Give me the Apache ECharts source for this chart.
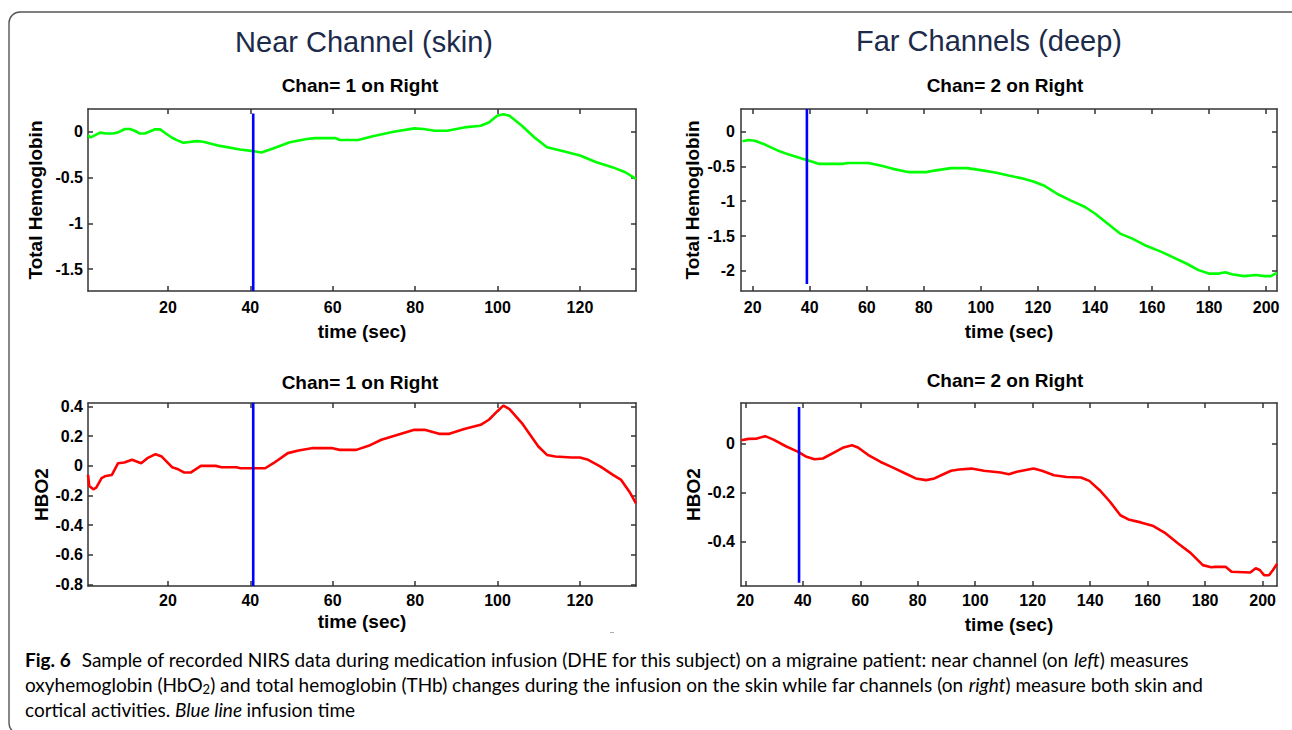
<!DOCTYPE html>
<html>
<head>
<meta charset="utf-8">
<script src="https://cdn.jsdelivr.net/npm/echarts@6/dist/echarts.min.js"></script>
<style>
html,body{margin:0;padding:0;background:#fff;}
#c{width:1292px;height:730px;}
</style>
</head>
<body>
<div id="c"></div>
<script>
// ---------- DATA ----------
const panelTitles = ["Near Channel (skin)", "Far Channels (deep)"];
const subTitles = ["Chan= 1 on Right", "Chan= 2 on Right", "Chan= 1 on Right", "Chan= 2 on Right"];
const yNames = ["Total Hemoglobin", "Total Hemoglobin", "HBO2", "HBO2"];
const xName = "time (sec)";

const nearXTicks = [20, 40, 60, 80, 100, 120];
const farXTicks = [20, 40, 60, 80, 100, 120, 140, 160, 180, 200];
const nearTHbYTicks = [0, -0.5, -1, -1.5];
const farTHbYTicks = [0, -0.5, -1, -1.5, -2];
const nearHbO2YTicks = [0.4, 0.2, 0, -0.2, -0.4, -0.6, -0.8];
const farHbO2YTicks = [0, -0.2, -0.4];

// near channel, total hemoglobin
const nearTHbTime = [0.6, 1.2, 2.0, 3.5, 5.0, 6.7, 8.0, 9.6, 10.8, 12.2, 13.2, 14.4, 16.9, 18.1, 19.5, 20.9, 22.3, 23.7, 27.0, 28.6, 32.6, 37.5, 40.7, 42.7, 45.5, 49.6, 53.7, 55.7, 60.7, 61.7, 66.2, 69.7, 74.8, 79.8, 82.0, 84.8, 87.8, 91.9, 95.9, 97.9, 99.9, 101.4, 102.9, 105.9, 108.9, 112.0, 116.0, 120.0, 124.0, 128.0, 131.0, 133.6];
const nearTHb = [-0.04, -0.062, -0.045, -0.01, -0.02, -0.02, -0.005, 0.03, 0.03, 0.005, -0.02, -0.02, 0.027, 0.025, -0.02, -0.063, -0.095, -0.12, -0.103, -0.11, -0.155, -0.194, -0.212, -0.227, -0.183, -0.116, -0.08, -0.07, -0.07, -0.09, -0.09, -0.05, 0.0, 0.036, 0.03, 0.01, 0.01, 0.047, 0.065, 0.1, 0.174, 0.19, 0.174, 0.065, -0.06, -0.17, -0.214, -0.26, -0.334, -0.39, -0.443, -0.516];

// far channels, total hemoglobin
const farTHbTime = [16.4, 18.6, 20.7, 24.3, 28.7, 33.0, 37.4, 39.5, 43.1, 47.5, 51.8, 53.3, 60.5, 64.8, 69.2, 73.5, 75.0, 80.8, 83.7, 89.5, 95.3, 101.0, 105.4, 109.7, 114.0, 118.4, 122.0, 127.0, 131.4, 136.5, 140.1, 143.7, 148.8, 153.1, 157.5, 163.3, 167.6, 172.0, 176.3, 179.9, 183.5, 185.7, 187.9, 192.2, 196.5, 199.4, 201.6, 203.8];
const farTHb = [-0.138, -0.12, -0.13, -0.186, -0.27, -0.334, -0.39, -0.415, -0.463, -0.463, -0.463, -0.45, -0.45, -0.487, -0.535, -0.573, -0.582, -0.582, -0.56, -0.525, -0.525, -0.56, -0.59, -0.63, -0.668, -0.716, -0.773, -0.9, -0.988, -1.083, -1.18, -1.3, -1.465, -1.537, -1.632, -1.728, -1.81, -1.895, -1.99, -2.04, -2.04, -2.02, -2.05, -2.076, -2.06, -2.076, -2.076, -2.03];

// near channel, HbO2
const nearHbO2Time = [0.6, 0.9, 1.9, 2.6, 3.9, 4.9, 6.4, 7.9, 9.4, 11.3, 13.5, 15.0, 17.0, 18.5, 21.0, 22.5, 24.0, 25.5, 28.0, 31.6, 33.0, 36.6, 37.6, 43.6, 45.6, 49.1, 51.7, 55.2, 59.7, 61.7, 65.7, 68.7, 71.8, 75.8, 79.8, 82.3, 85.8, 88.3, 91.9, 95.9, 97.9, 99.9, 101.4, 102.9, 105.9, 107.9, 109.9, 112.0, 114.0, 118.0, 120.0, 122.0, 125.0, 128.0, 130.0, 132.0, 133.6];
const nearHbO2 = [-0.06, -0.135, -0.158, -0.147, -0.083, -0.068, -0.061, 0.018, 0.023, 0.041, 0.018, 0.052, 0.079, 0.063, -0.009, -0.023, -0.045, -0.045, 0.0, 0.0, -0.009, -0.009, -0.016, -0.016, 0.018, 0.086, 0.104, 0.12, 0.12, 0.108, 0.108, 0.135, 0.176, 0.21, 0.243, 0.243, 0.216, 0.216, 0.248, 0.277, 0.311, 0.367, 0.406, 0.383, 0.289, 0.21, 0.131, 0.074, 0.063, 0.056, 0.056, 0.041, -0.005, -0.061, -0.095, -0.174, -0.253];

// far channels, HbO2
const farHbO2Time = [18.6, 21.1, 24.0, 26.9, 29.8, 34.1, 38.4, 41.3, 44.1, 47.0, 51.3, 54.2, 57.1, 59.2, 62.8, 67.1, 71.4, 75.7, 79.3, 82.9, 85.8, 88.7, 91.6, 94.4, 98.7, 103.0, 108.8, 111.7, 114.5, 120.3, 123.2, 127.4, 131.8, 136.8, 139.7, 143.3, 146.9, 150.5, 153.3, 157.6, 162.0, 166.3, 170.6, 174.9, 179.2, 182.1, 183.5, 187.1, 189.2, 195.7, 197.6, 199.0, 200.5, 202.2, 203.6, 205.0];
const farHbO2 = [0.0136, 0.019, 0.02, 0.03, 0.016, -0.011, -0.034, -0.054, -0.064, -0.061, -0.034, -0.016, -0.007, -0.016, -0.047, -0.075, -0.098, -0.122, -0.142, -0.149, -0.142, -0.126, -0.111, -0.106, -0.102, -0.111, -0.118, -0.125, -0.115, -0.102, -0.111, -0.129, -0.136, -0.138, -0.152, -0.19, -0.237, -0.292, -0.309, -0.321, -0.336, -0.366, -0.407, -0.445, -0.495, -0.504, -0.502, -0.502, -0.522, -0.525, -0.508, -0.515, -0.536, -0.536, -0.515, -0.49];

// infusion time (blue line) per panel and its vertical extent
const infusionTimes = [40.7, 39.0, 40.7, 38.7];
const infusionSpans = [[-1.74, 0.2], [-2.19, 0.325], [-0.81, 0.425], [-0.567, 0.149]];

const captionLines = [
  "{b|Fig. 6}{n|Sample of recorded NIRS data during medication infusion (DHE for this subject) on a migraine patient: near channel (on }{i|left}{n|) measures}",
  "{n|oxyhemoglobin (HbO}{s|2}{n|) and total hemoglobin (THb) changes during the infusion on the skin while far channels (on }{i|right}{n|) measure both skin and}",
  "{n|cortical activities. }{i|Blue line }{n|infusion time}"
];

// ---------- LAYOUT ----------
const grids = [
  {left: 88, top: 109, width: 548, height: 182},
  {left: 741, top: 109, width: 536, height: 182},
  {left: 88, top: 403, width: 548, height: 183},
  {left: 741, top: 403, width: 536, height: 183}
];
const xRanges = [[0.6, 133.6], [15.9, 203.8], [0.6, 133.6], [18.5, 205]];
const yRanges = [[-1.74, 0.248], [-2.29, 0.325], [-0.81, 0.424], [-0.58, 0.165]];
const xTickSets = [nearXTicks, farXTicks, nearXTicks, farXTicks];
const yTickSets = [nearTHbYTicks, farTHbYTicks, nearHbO2YTicks, farHbO2YTicks];
const yNameGaps = [43, 39, 37, 38];
const xNameGaps = [31, 31, 26, 29];
const xLabelMargins = [8, 8, 6, 6];
const yLabelMargins = [5, 6, 5, 6];

const SANS = '"Liberation Sans", Arial, sans-serif';
const axisColor = '#333';

function zip(a, b) { return a.map((v, i) => [v, b[i]]); }

const xAxes = [], yAxes = [], series = [];
grids.forEach((g, i) => {
  const common = {
    gridIndex: i, type: 'value',
    axisLine: {show: true, onZero: false, lineStyle: {color: axisColor, width: 1.5}},
    splitLine: {show: false}
  };
  xAxes.push(Object.assign({}, common, {
    position: 'bottom', min: xRanges[i][0], max: xRanges[i][1],
    axisTick: {show: true, inside: true, length: 5, customValues: xTickSets[i], lineStyle: {color: axisColor, width: 1.5}},
    axisLabel: {show: true, customValues: xTickSets[i], margin: xLabelMargins[i], color: '#000', fontFamily: SANS, fontWeight: 'bold', fontSize: 16},
    name: xName, nameLocation: 'middle', nameGap: xNameGaps[i],
    nameTextStyle: {color: '#000', fontFamily: SANS, fontWeight: 'bold', fontSize: 19}
  }));
  xAxes.push(Object.assign({}, common, {
    position: 'top', min: xRanges[i][0], max: xRanges[i][1],
    axisTick: {show: true, inside: true, length: 5, customValues: xTickSets[i], lineStyle: {color: axisColor, width: 1.5}},
    axisLabel: {show: false}
  }));
  yAxes.push(Object.assign({}, common, {
    position: 'left', min: yRanges[i][0], max: yRanges[i][1],
    axisTick: {show: true, inside: true, length: 5, customValues: yTickSets[i], lineStyle: {color: axisColor, width: 1.5}},
    axisLabel: {show: true, customValues: yTickSets[i], margin: yLabelMargins[i], color: '#000', fontFamily: SANS, fontWeight: 'bold', fontSize: 16},
    name: yNames[i], nameLocation: 'middle', nameGap: yNameGaps[i], nameRotate: 90,
    nameTextStyle: {color: '#000', fontFamily: SANS, fontWeight: 'bold', fontSize: 19}
  }));
  yAxes.push(Object.assign({}, common, {
    position: 'right', min: yRanges[i][0], max: yRanges[i][1],
    axisTick: {show: true, inside: true, length: 5, customValues: yTickSets[i], lineStyle: {color: axisColor, width: 1.5}},
    axisLabel: {show: false}
  }));
});

const dataSets = [
  {t: nearTHbTime, v: nearTHb, color: '#00ff00'},
  {t: farTHbTime, v: farTHb, color: '#00ff00'},
  {t: nearHbO2Time, v: nearHbO2, color: '#ff0000'},
  {t: farHbO2Time, v: farHbO2, color: '#ff0000'}
];
dataSets.forEach((d, i) => {
  series.push({
    type: 'line', xAxisIndex: i * 2, yAxisIndex: i * 2,
    data: zip(d.t, d.v), showSymbol: false, symbol: 'none',
    lineStyle: {color: d.color, width: 2.6}, silent: true
  });
  series.push({
    type: 'line', xAxisIndex: i * 2, yAxisIndex: i * 2,
    data: [[infusionTimes[i], infusionSpans[i][0]], [infusionTimes[i], infusionSpans[i][1]]],
    showSymbol: false, symbol: 'none',
    lineStyle: {color: '#0000ff', width: 2.6}, silent: true
  });
});

const subPos = [[360, 85], [1005, 85], [360, 382], [1005, 380]];
const graphics = [
  {type: 'rect', shape: {x: 9, y: 12, width: 1295, height: 722, r: 11},
   style: {fill: 'none', stroke: '#555', lineWidth: 1.4}, silent: true},
  {type: 'text', x: 364, y: 42, style: {text: panelTitles[0], fontFamily: SANS, fontSize: 29, fill: '#1c2b4a', align: 'center', verticalAlign: 'middle'}},
  {type: 'text', x: 989, y: 41, style: {text: panelTitles[1], fontFamily: SANS, fontSize: 29, fill: '#1c2b4a', align: 'center', verticalAlign: 'middle'}},
  {type: 'rect', shape: {x: 610, y: 632, width: 4, height: 1}, style: {fill: '#aaa'}, silent: true}
];
subTitles.forEach((s, i) => {
  graphics.push({type: 'text', x: subPos[i][0], y: subPos[i][1],
    style: {text: s, fontFamily: SANS, fontWeight: 'bold', fontSize: 19, fill: '#000', align: 'center', verticalAlign: 'middle'}});
});
const CAPF = 'Lato, "Open Sans", sans-serif';
const captionRich = {
  b: {fontFamily: CAPF, fontWeight: 'bold', fontSize: 19, color: '#222', lineHeight: 22, padding: [0, 11, 0, 0]},
  n: {fontFamily: CAPF, fontSize: 19, color: '#2a2a2a', lineHeight: 22},
  i: {fontFamily: CAPF, fontStyle: 'italic', fontSize: 19, color: '#2a2a2a', lineHeight: 22},
  s: {fontFamily: CAPF, fontSize: 13, color: '#2a2a2a', lineHeight: 13, verticalAlign: 'bottom'}
};
const capY = [659, 684, 709];
captionLines.forEach((line, i) => {
  graphics.push({type: 'text', x: 25, y: capY[i],
    style: {text: line, rich: captionRich, align: 'left', verticalAlign: 'middle'}});
});

const chart = echarts.init(document.getElementById('c'), null, {renderer: 'svg'});
chart.setOption({
  animation: false,
  backgroundColor: '#fff',
  grid: grids.map(g => Object.assign({containLabel: false}, g)),
  xAxis: xAxes,
  yAxis: yAxes,
  series: series,
  graphic: graphics
});
</script>
</body>
</html>
